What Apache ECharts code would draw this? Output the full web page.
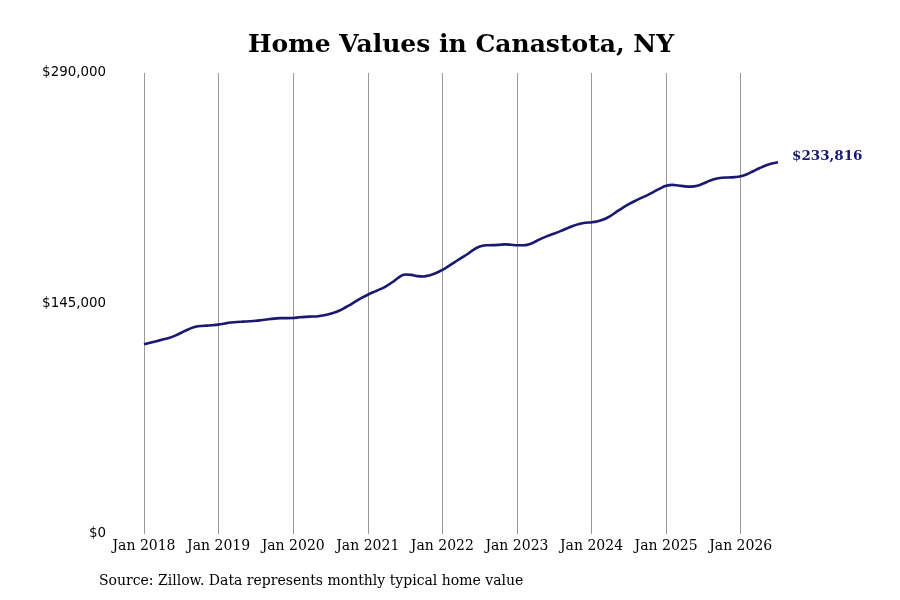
<!DOCTYPE html>
<html>
<head>
<meta charset="utf-8">
<script src="https://cdn.jsdelivr.net/npm/echarts@6/dist/echarts.min.js"></script>
<style>html,body{margin:0;padding:0;background:#fff}#c{width:900px;height:600px}</style>
</head>
<body>
<div id="c"></div>
<script>
var titleText = 'Home Values in Canastota, NY';
var sourceText = 'Source: Zillow. Data represents monthly typical home value';
var startYear = 2018;
var monthNames = ['Jan','Feb','Mar','Apr','May','Jun','Jul','Aug','Sep','Oct','Nov','Dec'];
var yTicks = [0, 145000, 290000];
var homeValues = [
  119300,120300,121300,122300,123300,124800,126600,128500,130000,130800,131100,131300,
  131700,132400,133000,133400,133600,133800,134100,134600,135100,135500,135800,135800,
  135900,136300,136600,136800,137000,137600,138500,139800,141600,143800,146200,148500,
  150500,152300,154000,156000,158500,161500,163200,163000,162200,162000,162800,164200,
  166100,168500,171000,173600,176000,178800,180800,181600,181700,181900,182200,182000,
  181600,181600,182300,184000,186000,187600,189000,190500,192200,193800,195000,195800,
  196100,196800,198000,200000,202600,205200,207500,209500,211400,213200,215200,217300,
  219000,219600,219200,218700,218500,219000,220500,222200,223500,224100,224300,224500,
  225000,226300,228200,230100,231800,233000,233816
];
var categories = [];
for (var i = 0; i < homeValues.length; i++) {
  categories.push(monthNames[i % 12] + ' ' + (startYear + Math.floor(i / 12)));
}
function money(v) { return '$' + Math.round(v).toLocaleString('en-US'); }

var chart = echarts.init(document.getElementById('c'));
var serif = '"DejaVu Serif"';
var sans = '"DejaVu Sans"';
chart.setOption({
  backgroundColor: '#fff',
  animation: false,
  title: {
    text: titleText, left: 456, top: 28, textAlign: 'center',
    textStyle: { fontFamily: serif, fontSize: 25, fontWeight: 'bold', color: '#000' }
  },
  graphic: [{
    type: 'text', left: 99, top: 574,
    style: { text: sourceText, fontFamily: serif, fontSize: 14, fill: '#000' }
  }],
  grid: { left: 144, right: 122, top: 73, bottom: 66 },
  xAxis: {
    type: 'category', data: categories, boundaryGap: false,
    axisLine: { show: false },
    axisTick: { show: false },
    axisLabel: {
      interval: function (idx) { return idx % 12 === 0; },
      fontFamily: serif, fontSize: 14, color: '#000', margin: 5
    },
    splitLine: {
      show: true, interval: function (idx) { return idx % 12 === 0; },
      lineStyle: { color: '#999', width: 1 }
    }
  },
  yAxis: {
    type: 'value', min: yTicks[0], max: yTicks[2], interval: yTicks[1] - yTicks[0],
    axisLine: { show: false }, axisTick: { show: false },
    splitLine: { show: false },
    axisLabel: { formatter: money, fontFamily: sans, fontSize: 13.4, color: '#000', margin: 38, padding: [4, 0, 0, 0] }
  },
  series: [{
    type: 'line', data: homeValues, smooth: 0.4, showSymbol: false,
    lineStyle: { color: '#191970', width: 2.6 },
    endLabel: {
      show: true, formatter: function (p) { return money(p.value); },
      fontFamily: serif, fontSize: 13.5, fontWeight: 'bold', color: '#191970',
      distance: 14, offset: [0, -6]
    }
  }]
});
</script>
</body>
</html>
